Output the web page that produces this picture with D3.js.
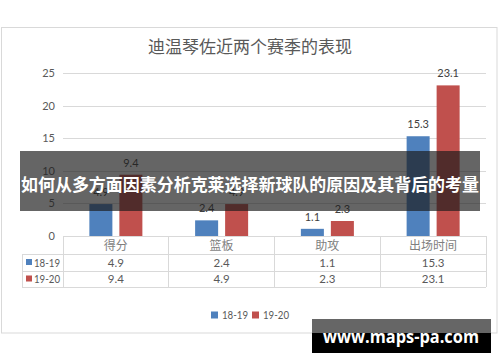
<!DOCTYPE html>
<html>
<head>
<meta charset="utf-8">
<script src="https://cdn.jsdelivr.net/npm/d3@7"></script>
<style>
  html, body { margin: 0; padding: 0; background: #fff; }
  svg { display: block; }
</style>
</head>
<body>
<svg id="chart"></svg>
<script>
const categories = ['得分', '篮板', '助攻', '出场时间'];
const seasons = ['18-19', '19-20'];
const values1819 = [4.9, 2.4, 1.1, 15.3];
const values1920 = [9.4, 4.9, 2.3, 23.1];
const yTicks = [0, 5, 10, 15, 20, 25];

const seriesColors = ['#4f81bd', '#c0504d'];
const cjk = '"Noto Sans CJK SC", "Microsoft YaHei", sans-serif';
const num = 'Lato, "Noto Sans", sans-serif';

const width = 500, height = 362;
const svg = d3.select('#chart').attr('width', width).attr('height', height);

// chart frame
svg.append('rect')
  .attr('x', 1.5).attr('y', 27.5)
  .attr('width', 495.5).attr('height', 305.5)
  .attr('fill', '#fff').attr('stroke', '#d9d9d9');

svg.append('text')
  .attr('x', 250).attr('y', 53)
  .attr('text-anchor', 'middle')
  .attr('font-family', cjk).attr('font-size', 17)
  .attr('fill', '#595959')
  .text('迪温琴佐近两个赛季的表现');

//SCALES
const x = d3.scaleBand().domain(categories).range([63, 486]).padding(0);
const xs = d3.scaleBand().domain(seasons).range([0, x.bandwidth()])
  .paddingInner(0.233).paddingOuter(0.879);
const y = d3.scaleLinear().domain([0, 25]).range([236, 73]);

//GRID + Y LABELS
svg.append('g').selectAll('line').data(yTicks.slice(1)).join('line')
  .attr('x1', 63).attr('x2', 486)
  .attr('y1', (d) => Math.round(y(d)) + 0.5).attr('y2', (d) => Math.round(y(d)) + 0.5)
  .attr('stroke', '#d9d9d9');

svg.append('g').selectAll('text').data(yTicks).join('text')
  .attr('x', 55).attr('y', (d) => y(d) + 4)
  .attr('text-anchor', 'end')
  .attr('font-family', num).attr('font-size', 11)
  .attr('fill', '#595959')
  .text((d) => d);

//BARS
const table = [values1819, values1920];
const bars = svg.append('g');
seasons.forEach((s, si) => {
  bars.selectAll('.bar' + si).data(table[si]).join('rect')
    .attr('class', 'bar' + si)
    .attr('x', (d, i) => x(categories[i]) + xs(s))
    .attr('width', xs.bandwidth())
    .attr('y', (d) => y(d))
    .attr('height', (d) => y(0) - y(d))
    .attr('fill', seriesColors[si]);

  bars.selectAll('.lab' + si).data(table[si]).join('text')
    .attr('class', 'lab' + si)
    .attr('x', (d, i) => x(categories[i]) + xs(s) + xs.bandwidth() / 2)
    .attr('y', (d) => y(d) - 8)
    .attr('text-anchor', 'middle')
    .attr('font-family', num).attr('font-size', 11)
    .attr('fill', '#404040')
    .text((d) => d);
});

//DATA TABLE
const rowY = [236, 254, 271, 287];
const tg = svg.append('g').attr('stroke', '#d9d9d9').attr('shape-rendering', 'crispEdges');
tg.append('line').attr('x1', 63).attr('x2', 486).attr('y1', 236).attr('y2', 236);
rowY.slice(1).forEach((ry) => {
  tg.append('line').attr('x1', 22).attr('x2', 486).attr('y1', ry).attr('y2', ry);
});
x.domain().concat(['end']).forEach((c, i) => {
  const xx = i < categories.length ? x(c) : x.range()[1];
  tg.append('line').attr('x1', xx).attr('x2', xx).attr('y1', 236).attr('y2', 287);
});
tg.append('line').attr('x1', 22).attr('x2', 22).attr('y1', 254).attr('y2', 287);

svg.append('g').selectAll('text').data(categories).join('text')
  .attr('x', (d) => x(d) + x.bandwidth() / 2).attr('y', 250)
  .attr('text-anchor', 'middle')
  .attr('font-family', cjk).attr('font-size', 12)
  .attr('fill', '#7f7f7f')
  .text((d) => d);

seasons.forEach((s, si) => {
  const cy = (rowY[si + 1] + rowY[si + 2]) / 2;
  svg.append('rect').attr('x', 26).attr('y', cy - 3.5).attr('width', 6).attr('height', 6)
    .attr('fill', seriesColors[si]);
  svg.append('text').attr('x', 34).attr('y', cy + 4)
    .attr('font-family', num).attr('font-size', 11).attr('fill', '#595959')
    .attr('textLength', 26).attr('lengthAdjust', 'spacingAndGlyphs')
    .text(s);
  svg.append('g').selectAll('text').data(table[si]).join('text')
    .attr('x', (d, i) => x(categories[i]) + x.bandwidth() / 2).attr('y', cy + 4)
    .attr('text-anchor', 'middle')
    .attr('font-family', num).attr('font-size', 11.5).attr('fill', '#595959')
    .text((d) => d);
});

//LEGEND
const legendX = [211, 252];
seasons.forEach((s, si) => {
  svg.append('rect').attr('x', legendX[si]).attr('y', 311.5).attr('width', 7).attr('height', 7)
    .attr('fill', seriesColors[si]);
  svg.append('text').attr('x', legendX[si] + 11).attr('y', 319)
    .attr('font-family', num).attr('font-size', 11).attr('fill', '#595959')
    .attr('textLength', 26).attr('lengthAdjust', 'spacingAndGlyphs')
    .text(s);
});

//OVERLAY BANNER
svg.append('rect').attr('x', 20).attr('y', 151).attr('width', 460).attr('height', 60)
  .attr('fill', 'rgba(28,28,28,0.68)');
svg.append('text').attr('x', 250).attr('y', 191)
  .attr('text-anchor', 'middle')
  .attr('font-family', cjk).attr('font-weight', 'bold').attr('font-size', 17.5)
  .attr('textLength', 458).attr('lengthAdjust', 'spacingAndGlyphs')
  .attr('fill', '#fff')
  .text('如何从多方面因素分析克莱选择新球队的原因及其背后的考量');

//WATERMARK
svg.append('rect').attr('x', 312).attr('y', 319).attr('width', 179).attr('height', 34).attr('fill', '#000');
svg.append('rect').attr('x', 312).attr('y', 319).attr('width', 179).attr('height', 14).attr('fill', '#666');
svg.append('text').attr('x', 401).attr('y', 343)
  .attr('text-anchor', 'middle')
  .attr('font-family', '"Open Sans", sans-serif').attr('font-weight', 'bold').attr('font-size', 18)
  .attr('textLength', 156).attr('lengthAdjust', 'spacingAndGlyphs')
  .attr('fill', '#fff')
  .text('www.maps-pa.com');
</script>
</body>
</html>
